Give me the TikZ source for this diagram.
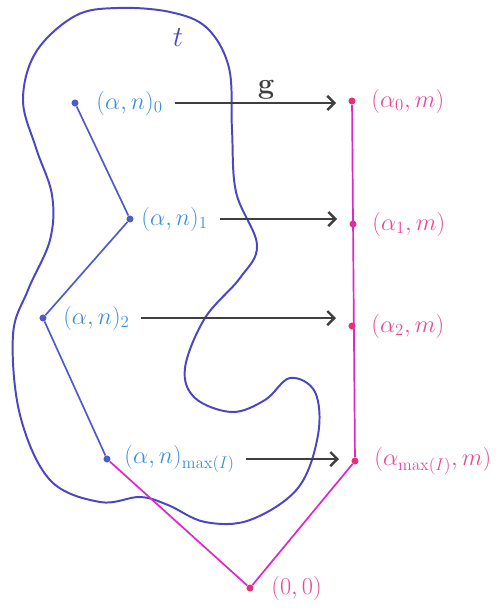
\documentclass[tikz,border=0pt]{standalone}
\usepackage{amsmath}
\usepackage{amssymb}
\usepackage{tikz}
\usepackage{xcolor}
\usetikzlibrary{arrows.meta, positioning, calc}
\definecolor{BlobIndigo}{HTML}{4B46C2}
\definecolor{PathBlue}{HTML}{4F5BCB}
\definecolor{LabelBlue}{HTML}{3C8EDC}
\definecolor{LineMagenta}{HTML}{E026C8}
\definecolor{DotPink}{HTML}{E8307A}
\definecolor{LabelPink}{HTML}{E8489A}
\definecolor{ArrowGray}{HTML}{3F3F3F}
\tikzset{
    % Points on the two paths
    point blue/.style={
        circle,
        fill=PathBlue,
        inner sep=0pt,
        minimum size=5pt
    },
    point pink/.style={
        circle,
        fill=DotPink,
        inner sep=0pt,
        minimum size=5pt
    },
    % Labels
    label blue/.style={
        text=LabelBlue,
        font=\LARGE,
        inner sep=1pt
    },
    label pink/.style={
        text=LabelPink,
        font=\LARGE,
        inner sep=1pt
    },
    % Lines
    blob line/.style={
        BlobIndigo,
        line width=1.4pt
    },
    blue path/.style={
        PathBlue,
        line width=1.2pt
    },
    pink path/.style={
        LineMagenta,
        line width=1.2pt
    },
    map arrow/.style={
        -{Straight Barb[length=5pt,width=10pt]},
        line width=1.7pt,
        ArrowGray,
        shorten <=0.25cm,
        shorten >=0.4cm
    }
}

\begin{document}
\begin{tikzpicture}[x=0.025cm, y=-0.025cm]
        \useasboundingbox (0,0) rectangle (503,610);

        % Region t
        \draw[blob line] plot[smooth cycle, tension=0.6] coordinates {
            (117,8) (170,12) (207,28) (229,68) (232,130) (236,192)
            (257,245) (240,278) (205,318) (185,368) (195,398) (232,412)
            (265,400) (290,378) (315,392) (318,435) (298,488) (250,520)
            (205,522) (168,505) (140,497) (100,502) (50,480) (20,415)
            (13,335) (28,290) (50,240) (52,195) (36,148) (23,100)
            (36,52) (75,16)};
        \node[text=BlobIndigo, font=\huge] (t) at (178,38) {$t$};

        % Blue points
        \node[point blue] (a0) at (75,103) {};
        \node[point blue] (a1) at (130,219) {};
        \node[point blue] (a2) at (43,318) {};
        \node[point blue] (amax) at (107,459) {};

        % Pink points
        \node[point pink] (d0) at (352,101) {};
        \node[point pink] (d1) at (353,224) {};
        \node[point pink] (d2) at (352,326) {};
        \node[point pink] (dmax) at (355,461) {};
        \node[point pink] (origin) at (250,588) {};

        % Paths
        \draw[blue path] (a0) -- (a1) -- (a2) -- (amax);
        \draw[pink path] (amax) -- (origin) -- (dmax) -- (d0);

        % Blue labels
        \node[label blue, right=0.4cm of a0] (la0) {$(\alpha,n)_0$};
        \node[label blue, right=0.15cm of a1] (la1) {$(\alpha,n)_1$};
        \node[label blue, right=0.37cm of a2] (la2) {$(\alpha,n)_2$};
        \node[label blue, right=0.3cm of amax] (lamax) {$(\alpha,n)_{\max(I)}$};

        % Pink labels
        \node[label pink, right=0.35cm of d0] (ld0) {$(\alpha_0,m)$};
        \node[label pink, right=0.35cm of d1] (ld1) {$(\alpha_1,m)$};
        \node[label pink, right=0.35cm of d2] (ld2) {$(\alpha_2,m)$};
        \node[label pink, right=0.35cm of dmax] (ldmax) {$(\alpha_{\max(I)},m)$};
        \node[label pink, right=0.4cm of origin] (lorigin) {$(0,0)$};

        % Map g
        \draw[map arrow] (la0.east) -- (la0.east -| d0);
        \draw[map arrow] (la1.east) -- (la1.east -| d1);
        \draw[map arrow] (la2.east) -- (la2.east -| d2);
        \draw[map arrow] (lamax.east) -- (lamax.east -| dmax);
        \node[text=ArrowGray, font=\huge\bfseries] (g) at (266,90) {g};
    \end{tikzpicture}
\end{document}
